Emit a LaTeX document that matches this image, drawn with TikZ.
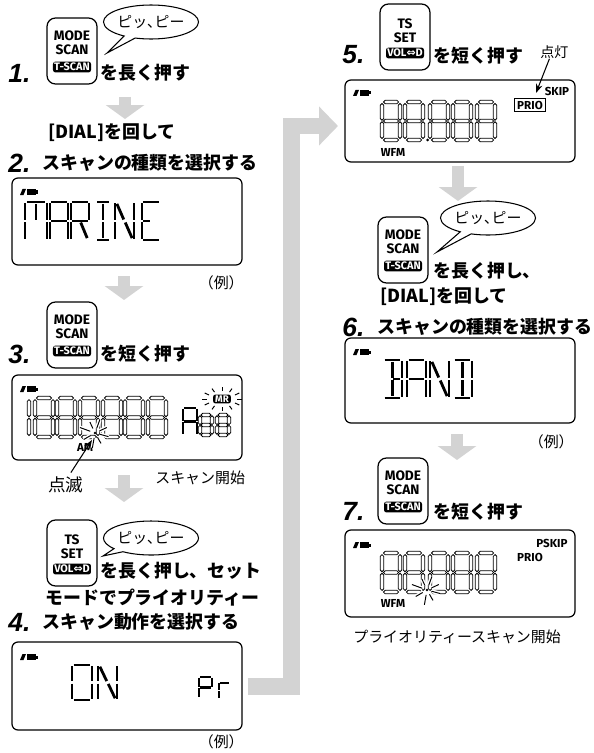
\documentclass[tikz,border=0pt]{standalone}
\usepackage{fontspec}
\setmainfont{Noto Sans CJK JP}
\newfontfamily\numfont{Liberation Sans}
\newfontfamily\keyfont{Fira Sans}
\newfontfamily\symfont{DejaVu Sans}
\usetikzlibrary{arrows.meta,positioning,shapes.geometric,shapes.callouts,fit}

\begin{document}
\begin{tikzpicture}[
    x={(0.02cm,0cm)}, y={(0cm,-0.02cm)},
    every node/.style={inner sep=0pt},
    steptext/.style={anchor=west, font=\fontsize{10.2}{12}\selectfont\bfseries},
    stepnum/.style={anchor=west, font=\fontsize{15}{16}\selectfont\numfont\bfseries\itshape},
    note/.style={anchor=west, font=\fontsize{8.5}{10}\selectfont},
    keybox/.style={draw, line width=0.7pt, rounded corners=0.17cm, minimum width=1.0cm, minimum height=1.32cm},
    keylabel/.style={font=\fontsize{7.8}{8}\selectfont\keyfont\bfseries},
    keyinv/.style={fill=black, text=white, rounded corners=0.05cm, inner xsep=0.025cm, inner ysep=0.03cm, font=\fontsize{6.2}{6.5}\selectfont\keyfont\bfseries},
    bubble/.style={draw, line width=0.6pt, ellipse callout, minimum width=1.82cm, minimum height=0.68cm, font=\fontsize{8.5}{10}\selectfont},
    lcdbox/.style={draw, line width=0.7pt, rounded corners=0.12cm},
    lcdon/.style={line width=1.6pt},
    lcdoff/.style={draw, fill=white, line width=0.45pt, line join=miter},
    lcdtag/.style={font=\fontsize{6.6}{7}\selectfont\keyfont\bfseries},
    mrtag/.style={fill=black, text=white, rounded corners=0.04cm, inner xsep=0.04cm, inner ysep=0.02cm, font=\fontsize{5.5}{6}\selectfont\keyfont\bfseries},
    ray/.style={line width=0.55pt},
    rayhalo/.style={white, line width=2.2pt},
    pointer/.style={line width=0.6pt, -{Stealth[length=0.18cm, width=0.13cm]}},
    flowbar/.style={flowgray, line width=0.34cm, -{Triangle[length=0.38cm, width=0.76cm]}},
    downbar/.style={flowgray, line width=0.24cm, -{Triangle[length=0.28cm, width=0.76cm]}},
  ]
    \definecolor{flowgray}{HTML}{D3D3D3}
    \useasboundingbox (0,0) rectangle (593,753);

    % lit segments of one LCD cell (unit box, y down)
    \def\segA{(0.08,0)--(0.92,0)}
    \def\segB{(1,0.03)--(1,0.47)}
    \def\segC{(1,0.53)--(1,0.97)}
    \def\segD{(0.08,1)--(0.92,1)}
    \def\segE{(0,0.53)--(0,0.97)}
    \def\segF{(0,0.03)--(0,0.47)}
    \def\segG{(0.08,0.5)--(0.92,0.5)}
    \def\segP{(0.08,0.5)--(0.47,0.5)}
    \def\segQ{(0.53,0.5)--(0.92,0.5)}
    \def\segI{(0.5,0.05)--(0.5,0.47)}
    \def\segL{(0.5,0.53)--(0.5,0.95)}
    \def\segH{(0.1,0.05)--(0.46,0.46)}
    \def\segM{(0.54,0.54)--(0.9,0.95)}

    % unlit (outlined) segments
    \newcommand{\ghH}[3]{(#1,#3) -- (#1+\tx,#3-\ty) -- (#2-\tx,#3-\ty) -- (#2,#3) -- (#2-\tx,#3+\ty) -- (#1+\tx,#3+\ty) -- cycle}
    \newcommand{\ghV}[3]{(#1,#2) -- (#1+\tx,#2+\ty) -- (#1+\tx,#3-\ty) -- (#1,#3) -- (#1-\tx,#3-\ty) -- (#1-\tx,#2+\ty) -- cycle}
    \def\ghA{\ghH{0.08}{0.92}{0}}
    \def\ghB{\ghV{1}{0.04}{0.48}}
    \def\ghC{\ghV{1}{0.52}{0.96}}
    \def\ghD{\ghH{0.08}{0.92}{1}}
    \def\ghE{\ghV{0}{0.52}{0.96}}
    \def\ghF{\ghV{0}{0.04}{0.48}}
    \def\ghG{\ghH{0.08}{0.92}{0.5}}

    \newcommand{\lcdchar}[5]{%
      \begin{scope}[shift={(#1,#2)}, x={(#3*0.02cm,0cm)}, y={(0cm,-#4*0.02cm)}]
        \foreach \s in {#5}{\draw[lcdon] \csname seg\s\endcsname;}
      \end{scope}}
    \newcommand{\lcdghost}[5]{%
      \pgfmathsetmacro{\tx}{1.7/#3}
      \pgfmathsetmacro{\ty}{1.7/#4}
      \begin{scope}[shift={(#1,#2)}, x={(#3*0.02cm,0cm)}, y={(0cm,-#4*0.02cm)}]
        \foreach \s in {#5}{\path[lcdoff] \csname gh\s\endcsname;}
      \end{scope}}
    \newcommand{\battery}[2]{%
      \fill (#1,#2+6) -- (#1+2.5,#2) -- (#1+6,#2) -- (#1+3.5,#2+6) -- cycle;
      \fill (#1+7,#2) rectangle (#1+16,#2+6);
      \fill (#1+16,#2+1.5) rectangle (#1+18,#2+4.5);}
    \newcommand{\flash}[2]{%
      \foreach \a/\r in {15/14,60/12,100/15,150/13,200/16,245/12,290/14,335/13}{
        \draw[rayhalo] (#1,#2) ++(\a:5) -- ++(\a:\r-5);}
      \foreach \a/\r in {15/14,60/12,100/15,150/13,200/16,245/12,290/14,335/13}{
        \draw[ray] (#1,#2) ++(\a:5) -- ++(\a:\r-5);}
      \fill (#1,#2) circle (1.3);}
    \newcommand{\modekey}[3]{%
      \node[keybox] (#1) at (#2+25,#3+33) {};
      \node[keylabel] (#1-a) at (#2+25,#3+18) {MODE};
      \node[keylabel] (#1-b) at (#2+25,#3+32) {SCAN};
      \node[keyinv] (#1-c) at (#2+25,#3+49) {T-SCAN};}
    \newcommand{\setkey}[3]{%
      \node[keybox] (#1) at (#2+25,#3+33) {};
      \node[keylabel] (#1-a) at (#2+25,#3+20) {TS};
      \node[keylabel] (#1-b) at (#2+25,#3+34) {SET};
      \node[keyinv] (#1-c) at (#2+25,#3+49) {VOL{\symfont ⇔}D};}

    % ---- step 1 ----
    \modekey{key1}{47}{18}
    \node[bubble, callout absolute pointer={(107,53)}] (bub1) at (151,22) {ピッ､ピー};
    \node[stepnum] (num1) at (8,73) {1.};
    \node[steptext] (txt1) at (100,73) {を長く押す};
    \draw[downbar] (125,97) -- (125,119);

    % ---- step 2 ----
    \node[steptext] (dial2) at (48,133) {[DIAL]を回して};
    \node[stepnum] (num2) at (8,163) {2.};
    \node[steptext] (txt2) at (42,163) {スキャンの種類を選択する};
    \node[lcdbox, fit={(12,178) (242,265)}] (lcd2) {};
    \battery{20}{189}
    \lcdchar{25}{202}{22}{38}{A,B,C,E,F,I}
    \lcdchar{50}{202}{18}{38}{A,B,C,E,F,G}
    \lcdchar{71}{202}{18}{38}{A,B,E,F,G,M}
    \lcdchar{96}{202}{14}{38}{A,D,I,L}
    \lcdchar{115}{202}{19}{38}{B,C,E,F,H,M}
    \lcdchar{142}{202}{18}{38}{A,D,E,F,P}
    \node[note, anchor=east] (ex2) at (244,283) {（例）};
    \draw[downbar] (124,276) -- (124,300);

    % ---- step 3 ----
    \modekey{key3}{47}{302}
    \node[stepnum] (num3) at (8,354) {3.};
    \node[steptext] (txt3) at (100,354) {を短く押す};
    \node[lcdbox, fit={(12,375) (242,460)}] (lcd3) {};
    \battery{20}{386}
    \lcdghost{10}{398}{19}{39}{B,C}
    \foreach \dx in {35,57,80,103,125,148}{
      \lcdghost{\dx}{398}{18}{39}{A,B,C,D,E,F,G}
    }
    \lcdchar{183}{408}{14}{27}{A,B,C,E,F,G}
    \lcdghost{200}{415}{12}{20}{A,B,C,D,E,F,G}
    \lcdghost{217}{415}{12}{20}{A,B,C,D,E,F,G}
    \node[mrtag] (mr3) at (222,399) {MR};
    \foreach \a in {0,30,...,330}{
      \draw[ray] (mr3.center) ++(\a:15 and 8) -- ++(\a:5 and 4);
    }
    \node[lcdtag] (am3) at (85,447) {AM};
    \flash{95}{433}
    \coordinate (blinkpt) at (92,440);
    \node[note, font=\fontsize{10}{12}\selectfont] (blink3) at (48,485) {点滅};
    \draw[pointer] ([xshift=0.1cm, yshift=0.08cm]blink3.north) -- (blinkpt);
    \node[note] (scan3) at (155,478) {スキャン開始};
    \draw[downbar] (124,475) -- (124,502);

    % ---- step 4 ----
    \setkey{key4}{47}{520}
    \node[bubble, callout absolute pointer={(103,556)}] (bub4) at (151,538) {ピッ､ピー};
    \node[steptext] (txt4a) at (100,571) {を長く押し、セット};
    \node[steptext] (txt4b) at (45,598) {モードでプライオリティー};
    \node[stepnum] (num4) at (8,622) {4.};
    \node[steptext] (txt4c) at (42,622) {スキャン動作を選択する};
    \node[lcdbox, fit={(12,642) (242,730)}] (lcd4) {};
    \battery{20}{654}
    \lcdchar{72}{665}{20}{35}{A,B,C,D,E,F}
    \lcdchar{98}{665}{19}{35}{B,C,E,F,H,M}
    \lcdchar{199}{677}{13}{21}{A,B,E,F,G}
    \lcdchar{219}{683}{11}{15}{E,F,A}
    \node[note, anchor=east] (ex4) at (244,742) {（例）};

    % ---- big connector ----
    \coordinate (turn) at (291,126);
    \coordinate (enter5) at (338,126);
    \draw[flowbar] ([xshift=0.1cm]lcd4.east) -| (turn) -- (enter5);

    % ---- step 5 ----
    \setkey{key5}{380}{4}
    \node[stepnum] (num5) at (342,55) {5.};
    \node[steptext] (txt5) at (433,56) {を短く押す};
    \node[note, font=\fontsize{8}{10}\selectfont] (lit5) at (540,52) {点灯};
    \node[lcdbox, fit={(345,80) (575,162)}] (lcd5) {};
    \battery{353}{90}
    \foreach \dx in {382,405,430,453,477}{
      \lcdghost{\dx}{102}{18}{38}{A,B,C,D,E,F,G}
    }
    \fill (427.5,140) circle (1.5);
    \node[lcdtag, draw, line width=0.5pt, inner xsep=0.05cm, inner ysep=0.04cm] (prio5) at (530,105) {PRIO};
    \node[lcdtag] (skip5) at (557,91) {SKIP};
    \coordinate (litpt) at (536,93);
    \draw[pointer] ([xshift=-0.1cm]lit5.south) -- (litpt);
    \node[lcdtag] (wfm5) at (393,152) {WFM};
    \draw[downbar] (458,166) -- (458,201);

    % ---- step 6 ----
    \modekey{key6}{378}{217}
    \node[bubble, callout absolute pointer={(437,252)}] (bub6) at (488,218) {ピッ､ピー};
    \node[steptext] (txt6a) at (433,271) {を長く押し、};
    \node[steptext] (dial6) at (380,297) {[DIAL]を回して};
    \node[stepnum] (num6) at (342,327) {6.};
    \node[steptext] (txt6) at (377,327) {スキャンの種類を選択する};
    \node[lcdbox, fit={(345,338) (575,423)}] (lcd6) {};
    \battery{353}{349}
    \lcdchar{383}{360}{19}{38}{A,B,C,D,I,L,Q}
    \lcdchar{407}{360}{19}{38}{A,B,C,E,F,G}
    \lcdchar{430}{360}{19}{38}{B,C,E,F,H,M}
    \lcdchar{453}{360}{19}{38}{A,B,C,D,I,L}
    \node[note, anchor=east] (ex6) at (574,442) {（例）};
    \draw[downbar] (457,434) -- (457,460);

    % ---- step 7 ----
    \modekey{key7}{378}{458}
    \node[stepnum] (num7) at (342,511) {7.};
    \node[steptext] (txt7) at (433,512) {を短く押す};
    \node[lcdbox, fit={(345,530) (575,617)}] (lcd7) {};
    \battery{353}{542}
    \foreach \dx in {382,405,430,453,477}{
      \lcdghost{\dx}{553}{18}{39}{A,B,C,D,E,F,G}
    }
    \node[lcdtag] (pskip7) at (552,543) {PSKIP};
    \node[lcdtag] (prio7) at (530,557) {PRIO};
    \node[lcdtag] (wfm7) at (393,603) {WFM};
    \flash{427}{590}
    \node[note] (prsc7) at (353,637) {プライオリティースキャン開始};
  \end{tikzpicture}
\end{document}
